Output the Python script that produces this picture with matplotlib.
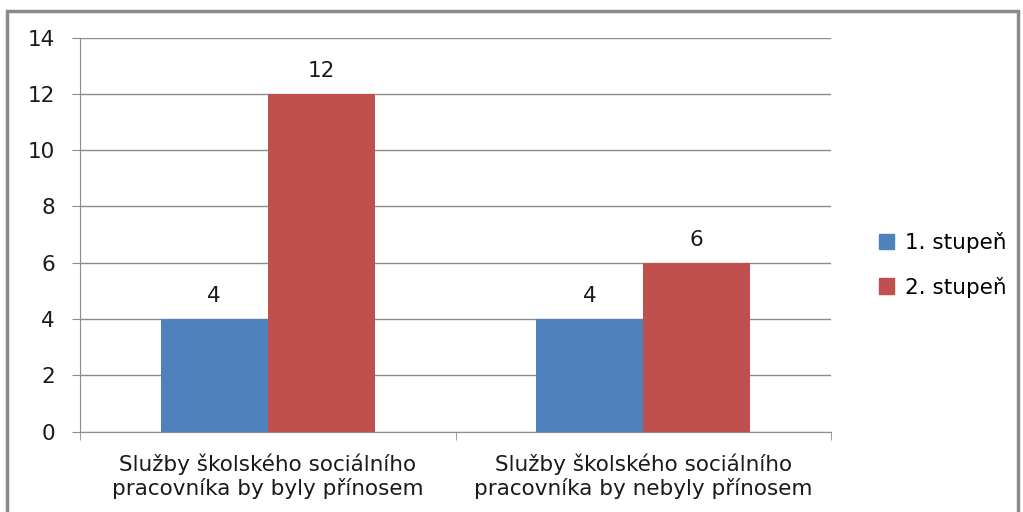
import numpy as np
import matplotlib.pyplot as plt
from matplotlib.patches import Rectangle, Patch

categories = ["Služby školského sociálního\npracovníka by byly přínosem",
              "Služby školského sociálního\npracovníka by nebyly přínosem"]
series_names = ["1. stupeň", "2. stupeň"]
stupen1 = [4, 4]
stupen2 = [12, 6]
colors = ["#4F81BD", "#C0504D"]

plt.rcParams['font.family'] = ['DejaVu Sans']
fs = 15.5

fig = plt.figure(figsize=(10.23, 5.12), dpi=100)
ax = fig.add_axes([80 / 1023, 1 - 431.5 / 512, 751 / 1023, 394 / 512])

x = np.arange(len(categories))
w = 0.285
for i, (vals, name) in enumerate(zip([stupen1, stupen2], series_names)):
    bars = ax.bar(x + (i - 0.5) * w, vals, width=w, color=colors[i], label=name, zorder=3)
    for b, v in zip(bars, vals):
        ax.text(b.get_x() + b.get_width() / 2, v + 0.45, str(v), ha='center', va='bottom',
                fontsize=fs, color='#1a1a1a')

ax.set_xlim(-0.5, len(categories) - 0.5)
ax.set_ylim(0, 14)
ax.set_yticks(range(0, 15, 2))
ax.yaxis.grid(True, color='#8c8c8c', linewidth=1, zorder=0)
ax.set_xticks(x)
ax.set_xticklabels(categories, fontsize=fs, color='#1a1a1a', linespacing=1.15)
ax.set_xticks([-0.5, 0.5, 1.5], minor=True)
ax.tick_params(axis='x', which='major', length=0, pad=16)
ax.tick_params(axis='x', which='minor', length=6, color='#8c8c8c')
ax.tick_params(axis='y', length=6, color='#8c8c8c', labelsize=fs, labelcolor='#1a1a1a', pad=12)
for s in ['top', 'right']:
    ax.spines[s].set_visible(False)
for s in ['left', 'bottom']:
    ax.spines[s].set_color('#8c8c8c')

handles = [Patch(color=c, label=n) for c, n in zip(colors, series_names)]
fig.legend(handles=handles, loc='center left', bbox_to_anchor=(0.84, 0.483),
           frameon=False, fontsize=fs, handlelength=0.7, handleheight=0.7,
           handletextpad=0.5, labelspacing=1.1)

fig.patches.append(Rectangle((7 / 1023, -0.05), 1011 / 1023, 1.05 - 11 / 512,
                             transform=fig.transFigure, fill=False,
                             edgecolor='#8a8a8a', linewidth=2.5))

fig.savefig("out.png", dpi=100)
